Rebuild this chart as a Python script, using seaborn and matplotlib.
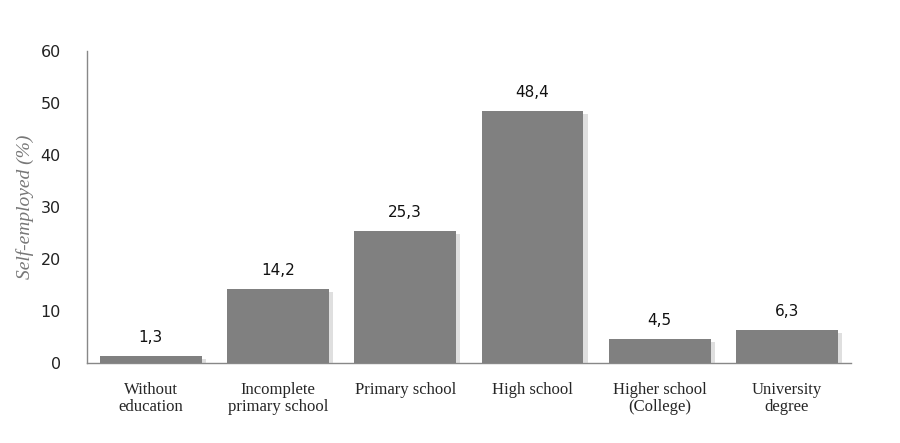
import matplotlib
matplotlib.use("Agg")
import matplotlib.pyplot as plt
import matplotlib.patheffects as pe
import seaborn as sns
import pandas as pd

categories = ["Without\neducation", "Incomplete\nprimary school", "Primary school",
              "High school", "Higher school\n(College)", "University\ndegree"]
values = [1.3, 14.2, 25.3, 48.4, 4.5, 6.3]
yticks = [0, 10, 20, 30, 40, 50, 60]

sns.set_style("white")
plt.rcParams["font.family"] = ["Liberation Serif", "DejaVu Serif"]

df = pd.DataFrame({"cat": categories, "val": values})

fig = plt.figure(figsize=(9, 4.43), dpi=100)
ax = fig.add_axes([0.097, 0.181, 0.848, 0.704])

sns.barplot(data=df, x="cat", y="val", color="#808080", saturation=1,
            width=0.8, ax=ax, zorder=3)

for bar in ax.patches:
    bar.set_edgecolor("none")
    bar.set_path_effects([pe.SimplePatchShadow(offset=(3, -2), shadow_rgbFace="#b8b8b8", alpha=0.45),
                          pe.Normal()])

for bar, v in zip(ax.patches, values):
    ax.text(bar.get_x() + bar.get_width() / 2, v + 2.2, f"{v:.1f}".replace(".", ","),
            ha="center", va="bottom", fontsize=11, family=["DejaVu Sans"], color="#111111")

ax.set_ylim(0, 60)
ax.set_xlim(-0.5, len(categories) - 0.5)
ax.set_yticks(yticks)
ax.set_yticklabels([str(t) for t in yticks], family=["DejaVu Sans"], fontsize=11.5, color="#222222")
ax.set_xlabel("")
ax.set_ylabel("Self-employed (%)", fontsize=14, style="italic", color="#777777", labelpad=5)

ax.set_xticks(range(len(categories)))
ax.set_xticklabels(categories, fontsize=12, linespacing=1.1)
ax.tick_params(axis="x", length=0, pad=14)
# boundary ticks between categories
ax.set_xticks([i + 0.5 for i in range(-1, len(categories))], minor=True)
ax.tick_params(axis="x", which="minor", length=5, color="#888888", direction="out")
ax.tick_params(axis="y", length=5, color="#888888", direction="out", pad=14)

for s in ["top", "right"]:
    ax.spines[s].set_visible(False)
for s in ["left", "bottom"]:
    ax.spines[s].set_color("#888888")
    ax.spines[s].set_linewidth(1.0)

fig.savefig("out.png", dpi=100)
